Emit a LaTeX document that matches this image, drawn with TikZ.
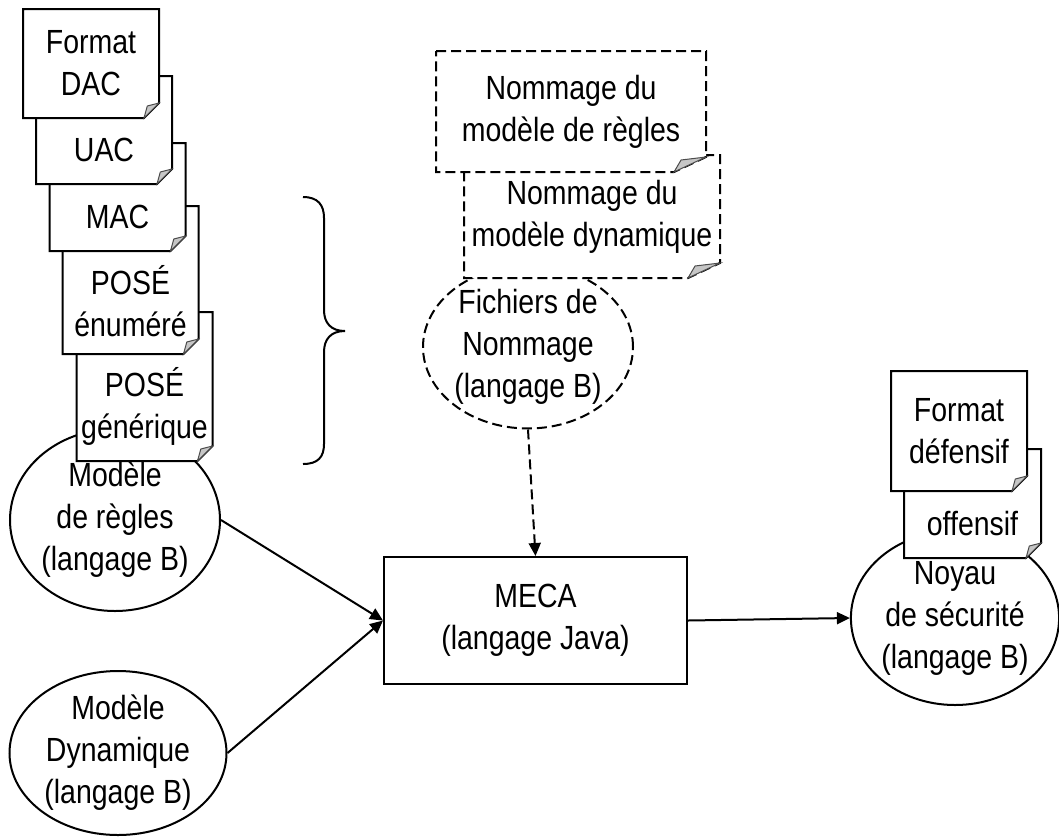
\documentclass[tikz,border=0pt]{standalone}
\usepackage{fontspec}
\setmainfont{Liberation Sans}[FakeStretch=0.85]
\usetikzlibrary{shapes.geometric, arrows.meta, calc}

% sheet with a folded corner: node, line style, hidden top part, fold width
\newcommand{\drawsheet}[4]{%
  \filldraw[fill=white, #2] ($(#1.north west)+(0,-#3)$) -- ($(#1.north east)+(0,-#3)$)
    -- ($(#1.south east)+(0,-15)$) -- ($(#1.south east)+(-#4,0)$)
    -- (#1.south west) -- cycle;
  \filldraw[fill=gray!45, draw=black!70, line width=1pt]
    ($(#1.south east)+(0,-15)$) -- ($(#1.south east)+(-#4,0)$)
    -- ($(#1.south east)+(-0.78*#4,-12)$) -- cycle;}

\begin{document}
\begin{tikzpicture}[x=1pt, y=-1pt,
    font=\fontsize{33.5}{42}\selectfont,
    line width=2pt,
    dashline/.style={dash pattern=on 10pt off 5pt},
    sheet/.style={rectangle, inner sep=0, align=center, minimum width=134pt,
        append after command={\pgfextra{\drawsheet{\tikzlastnode}{solid}{#1}{15}}}},
    sheet/.default=0,
    dsheet/.style={rectangle, inner sep=0, align=center,
        append after command={\pgfextra{\drawsheet{\tikzlastnode}{dashline}{0}{32}}}},
    blob/.style={ellipse, draw, fill=white, align=center, inner sep=0},
    arrow/.style={->, >={Triangle[length=13pt, width=12pt]}}
]
    \useasboundingbox (0,0) rectangle (1059,836);

    % Models
    \node[blob, minimum width=210pt, minimum height=182pt] (regles) at (115,520) {Modèle\\de règles\\(langage B)};
    \node[blob, minimum width=217pt, minimum height=164pt] (dyn) at (118,753) {Modèle\\Dynamique\\(langage B)};
    \node[blob, dashline, minimum width=210pt, minimum height=139pt] (fich) at (528,347) {Fichiers de\\Nommage\\(langage B)};
    \node[blob, minimum width=206pt, minimum height=174pt] (noyau) at (955,618) {Noyau\\de sécurité\\(langage B)};
    \node[draw, align=center, minimum width=303pt, minimum height=127pt] (meca) at (535.5,620.5) {MECA\\(langage Java)};

    % Formats (back to front)
    \node[sheet=40, minimum height=107pt] (gen) at (144.5,406.5) {POSÉ\\générique};
    \node[sheet=43, minimum height=103pt] (enum) at (130.5,301.5) {POSÉ\\énuméré};
    \node[sheet=39, minimum height=67pt] (mac) at (117.5,216.5) {MAC};
    \node[sheet=40, minimum height=66pt] (uac) at (104,150) {UAC};
    \node[sheet, minimum height=107pt] (dac) at (91,63.5) {Format\\DAC};

    \node[sheet=40, minimum width=135pt, minimum height=67pt] (off) at (972.5,523.5) {offensif};
    \node[sheet, minimum height=118pt] (def) at (959,431) {Format\\défensif};

    % Naming
    \node[dsheet, minimum width=254pt, minimum height=121pt] (nomdyn) at (592,216.5) {Nommage du\\modèle dynamique};
    \node[dsheet, minimum width=268pt, minimum height=119pt] (nomreg) at (571,111.5) {Nommage du\\modèle de règles};

    % Brace
    \draw (303,197) .. controls (318,197) and (324,205) .. (324,218) -- (324,310)
        .. controls (324,323) and (331,331) .. (345,331)
        .. controls (331,331) and (324,339) .. (324,352) -- (324,444)
        .. controls (324,457) and (318,464) .. (303,464);

    % Arrows
    \draw[arrow] (regles.east) -- (meca.west);
    \draw[arrow] (dyn.east) -- (meca.west);
    \draw[arrow, dashline] (fich.south) -- (meca.north);
    \draw[arrow] (meca.east) -- (noyau.west);
\end{tikzpicture}
\end{document}
